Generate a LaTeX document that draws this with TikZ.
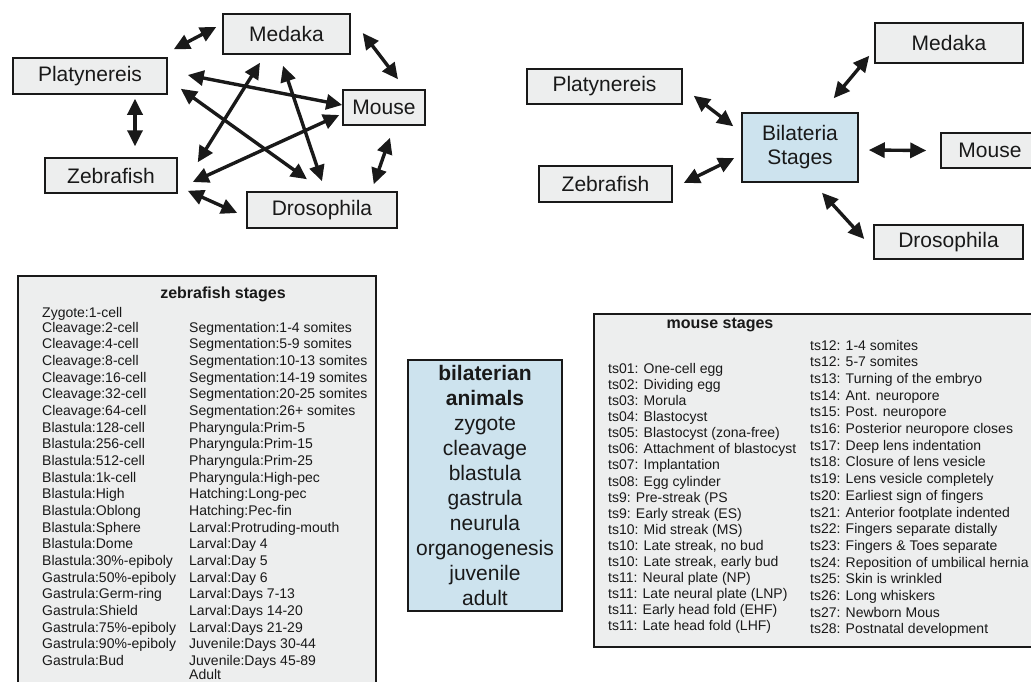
\documentclass[tikz,border=0pt]{standalone}
\usepackage{fontspec}
\setmainfont{Liberation Sans}
\usetikzlibrary{arrows.meta}
\definecolor{boxgray}{RGB}{237,238,238}
\definecolor{boxblue}{RGB}{205,227,238}
\definecolor{ink}{RGB}{25,25,25}
\tikzset{
  sp/.style={draw=ink, line width=1.5pt, fill=boxgray, inner sep=0pt, text=ink, font=\fontsize{21}{24}\selectfont},
  bp/.style={sp, fill=boxblue, align=center},
  bigbox/.style={draw=ink, line width=1.8pt, fill=boxgray, inner sep=0pt, anchor=north west},
  lst/.style={anchor=base west, inner sep=0pt, text=ink, font=\fontsize{14}{16}\selectfont},
  ttl/.style={inner sep=0pt, text=ink, font=\bfseries\fontsize{16}{19}\selectfont},
  dbl/.style={line width=3.4pt, draw=ink, {Triangle[length=16pt,width=15pt]}-{Triangle[length=16pt,width=15pt]}}
}
\begin{document}
\begin{tikzpicture}[x=1pt,y=-1pt]
\useasboundingbox (0,0) rectangle (1031,681);
\clip (0,0) rectangle (1031,681);

% ---------- left network ----------
\node[sp, minimum width=154pt, minimum height=36pt] (plat1) at (90,76) {Platynereis};
\node[sp, minimum width=127pt, minimum height=40pt] (med1) at (286.5,34) {Medaka};
\node[sp, minimum width=132pt, minimum height=35pt] (zeb1) at (111,175.5) {Zebrafish};
\node[sp, minimum width=150pt, minimum height=36pt] (dro1) at (322,210) {Drosophila};
\node[sp, minimum width=82pt, minimum height=35pt] (mou1) at (384,107.5) {Mouse};

\draw[dbl] ([shift={(6,-8)}]plat1.north east) -- ([shift={(-6,-7)}]med1.west);
\draw[dbl] ([shift={(12,-1)}]med1.east) -- ([shift={(14,-10)}]mou1.north);
\draw[dbl] ([shift={(45,4)}]plat1.south) -- ([shift={(24,-11)}]zeb1.north);
\draw[dbl] ([shift={(10,-3)}]zeb1.south east) -- ([shift={(-9,3)}]dro1.west);
\draw[dbl] ([shift={(-24,-7)}]dro1.north east) -- ([shift={(6,12)}]mou1.south);
\draw[dbl] ([shift={(20,-1)}]plat1.east) -- ([shift={(0,-2.5)}]mou1.west);
\draw[dbl] ([shift={(13,-6)}]plat1.south east) -- ([shift={(-15,-12)}]dro1.north);
\draw[dbl] ([shift={(-26.5,8)}]med1.south) -- ([shift={(20,5)}]zeb1.north east);
\draw[dbl] ([shift={(-3.5,11)}]med1.south) -- ([shift={(0,-10)}]dro1.north);
\draw[dbl] ([shift={(15,6.5)}]zeb1.east) -- ([shift={(-3,7.5)}]mou1.west);

% ---------- right network ----------
\node[sp, minimum width=148pt, minimum height=40pt] (med2) at (949,43) {Medaka};
\node[sp, minimum width=155pt, minimum height=35pt] (plat2) at (604.5,86.5) {Platynereis};
\node[bp, minimum width=116pt, minimum height=69pt] (bil) at (800,147.5) {Bilateria\\Stages};
\node[sp, minimum width=133pt, minimum height=36pt] (zeb2) at (605.5,184) {Zebrafish};
\node[sp, minimum width=98pt, minimum height=35pt] (mou2) at (990,150.5) {Mouse};
\node[sp, minimum width=149pt, minimum height=34pt] (dro2) at (948.5,242) {Drosophila};

\draw[dbl] ([shift={(-25,-14)}]bil.north east) -- ([shift={(-5,-8)}]med2.south west);
\draw[dbl] ([shift={(11,-9)}]plat2.south east) -- ([shift={(-8,14)}]bil.north west);
\draw[dbl] ([shift={(11,-1)}]zeb2.east) -- ([shift={(-7,10.5)}]bil.west);
\draw[dbl] ([shift={(10,2.5)}]bil.east) -- ([shift={(-14,0)}]mou2.west);
\draw[dbl] ([shift={(22,10)}]bil.south) -- ([shift={(-9,-3)}]dro2.west);

% ---------- zebrafish stages ----------
\node[bigbox, minimum width=358pt, minimum height=430pt] (zbox) at (17,275) {};
\node[ttl] (ztitle) at (223,294) {zebrafish stages};
\node[lst] (zyg) at (42,317) {Zygote:1-cell};
\foreach \t [count=\i from 0] in {Cleavage:2-cell, Cleavage:4-cell, Cleavage:8-cell, Cleavage:16-cell, Cleavage:32-cell, Cleavage:64-cell, Blastula:128-cell, Blastula:256-cell, Blastula:512-cell, Blastula:1k-cell, Blastula:High, Blastula:Oblong, Blastula:Sphere, Blastula:Dome, Blastula:30\%-epiboly, Gastrula:50\%-epiboly, Gastrula:Germ-ring, Gastrula:Shield, Gastrula:75\%-epiboly, Gastrula:90\%-epiboly, Gastrula:Bud}
  \node[lst] (zl\i) at (42,{332+16.67*\i}) {\t};
\foreach \t [count=\i from 0] in {Segmentation:1-4 somites, Segmentation:5-9 somites, Segmentation:10-13 somites, Segmentation:14-19 somites, Segmentation:20-25 somites, Segmentation:26+ somites, Pharyngula:Prim-5, Pharyngula:Prim-15, Pharyngula:Prim-25, Pharyngula:High-pec, Hatching:Long-pec, Hatching:Pec-fin, Larval:Protruding-mouth, Larval:Day 4, Larval:Day 5, Larval:Day 6, Larval:Days 7-13, Larval:Days 14-20, Larval:Days 21-29, Juvenile:Days 30-44, Juvenile:Days 45-89}
  \node[lst] (zr\i) at (189,{332+16.67*\i}) {\t};
\node[lst] (zadult) at (189,679.5) {Adult};

% ---------- bilaterian animals ----------
\node[bp, minimum width=154pt, minimum height=251pt, font=\fontsize{21}{25}\selectfont] (bilat) at (485,485.5)
  {\textbf{bilaterian}\\\textbf{animals}\\zygote\\cleavage\\blastula\\gastrula\\neurula\\organogenesis\\juvenile\\adult};

% ---------- mouse stages ----------
\node[bigbox, minimum width=452pt, minimum height=333pt] (mbox) at (593,313) {};
\node[ttl] (mtitle) at (720,325) {mouse stages};
\foreach \t [count=\i from 0] in {ts01: One-cell egg, ts02: Dividing egg, ts03: Morula, ts04: Blastocyst, ts05: Blastocyst (zona-free), ts06: Attachment of blastocyst, ts07: Implantation, ts08: Egg cylinder, ts9: Pre-streak (PS, ts9: Early streak (ES), ts10: Mid streak (MS), {ts10: Late streak, no bud}, {ts10: Late streak, early bud}, ts11: Neural plate (NP), ts11: Late neural plate (LNP), ts11: Early head fold (EHF), ts11: Late head fold (LHF)}
  \node[lst] (ml\i) at (608,{373.3+16.1*\i}) {\t};
\foreach \t [count=\i from 0] in {ts12: 1-4 somites, ts12: 5-7 somites, ts13: Turning of the embryo, ts14: Ant. neuropore, ts15: Post. neuropore, ts16: Posterior neuropore closes, ts17: Deep lens indentation, ts18: Closure of lens vesicle, ts19: Lens vesicle completely, ts20: Earliest sign of fingers, ts21: Anterior footplate indented, ts22: Fingers separate distally, ts23: Fingers \& Toes separate, ts24: Reposition of umbilical hernia, ts25: Skin is wrinkled, ts26: Long whiskers, ts27: Newborn Mous, ts28: Postnatal development}
  \node[lst] (mr\i) at (810,{350+16.7*\i}) {\t};
\end{tikzpicture}
\end{document}
